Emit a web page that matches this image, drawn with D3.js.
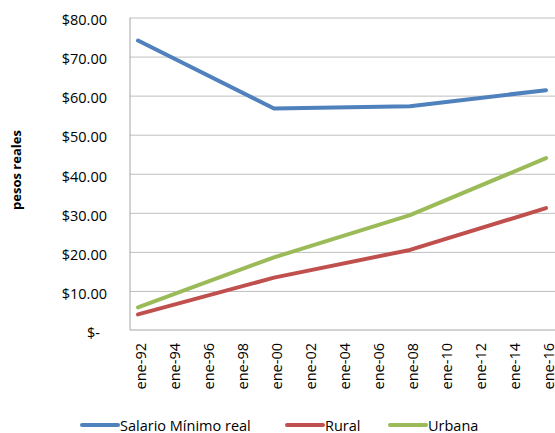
<!DOCTYPE html>
<html>
<head>
<meta charset="utf-8">
<script src="https://d3js.org/d3.v7.min.js"></script>
<style>
body { margin: 0; background: #fff; }
svg text { font-family: 'Open Sans', sans-serif; fill: #000; }
</style>
</head>
<body>
<svg id="chart" width="555" height="433"></svg>
<script>
// data (pesos reales)
var years = [1992, 2000, 2008, 2016];
var salarioMinimo = [74.1, 56.7, 57.3, 61.4];
var rural = [4.0, 13.4, 20.5, 31.2];
var urbana = [5.8, 18.6, 29.4, 44.0];
var seriesNames = ['Salario Mínimo real', 'Rural', 'Urbana'];
var seriesColors = ['#4f81bd', '#c0504d', '#9bbb59'];
var tickYears = [1992, 1994, 1996, 1998, 2000, 2002, 2004, 2006, 2008, 2010, 2012, 2014, 2016];
var tickLabels = ['ene-92', 'ene-94', 'ene-96', 'ene-98', 'ene-00', 'ene-02', 'ene-04', 'ene-06', 'ene-08', 'ene-10', 'ene-12', 'ene-14', 'ene-16'];
var yTicks = [0, 10, 20, 30, 40, 50, 60, 70, 80];

var svg = d3.select('#chart');
var plotLeft = 130, plotRight = 555, plotTop = 17.5, plotBottom = 330;

var xs = d3.scaleLinear().domain([1992, 2016]).range([138, 546]);
var ys = d3.scaleLinear().domain([0, 80]).range([plotBottom, plotTop]);

// gridlines
svg.append('g')
  .attr('transform', 'translate(' + plotLeft + ',0)')
  .call(d3.axisLeft(ys).tickValues(yTicks.slice(1)).tickSize(-(plotRight - plotLeft)).tickFormat(''))
  .call(function(g) { g.select('.domain').remove(); })
  .selectAll('line').attr('stroke', '#bfbfbf').attr('stroke-width', 1);

// y axis labels
var yAxis = svg.append('g')
  .attr('transform', 'translate(' + plotLeft + ',0)')
  .call(d3.axisLeft(ys).tickValues(yTicks).tickSize(0).tickPadding(23)
    .tickFormat(function(d) { return d === 0 ? '$-' : '$' + d.toFixed(2); }));
yAxis.select('.domain').remove();
yAxis.selectAll('text')
  .attr('font-size', '14.5px')
  .attr('font-family', "'Open Sans', sans-serif")
  .attr('dy', '0.5em')
  .attr('dx', function(d) { return d === 0 ? -7 : 0; });

// axis lines
svg.append('line')
  .attr('x1', plotLeft).attr('x2', plotLeft)
  .attr('y1', plotTop).attr('y2', plotBottom)
  .attr('stroke', '#a6a6a6');

// x axis
var xAxis = svg.append('g')
  .attr('transform', 'translate(0,' + plotBottom + ')')
  .call(d3.axisBottom(xs).tickValues(tickYears).tickSize(0)
    .tickFormat(function(d, i) { return tickLabels[i]; }));
xAxis.select('.domain')
  .attr('d', 'M' + plotLeft + ',0H' + plotRight)
  .attr('stroke', '#a6a6a6');
xAxis.selectAll('text')
  .attr('font-size', '14.5px')
  .attr('font-family', "'Open Sans', sans-serif")
  .attr('text-anchor', 'end')
  .attr('transform', 'translate(0,13) rotate(-90)')
  .attr('x', 0).attr('y', 0)
  .attr('dy', '7px');

// y title
svg.append('text')
  .attr('transform', 'translate(21,170) rotate(-90)')
  .attr('text-anchor', 'middle')
  .attr('font-weight', 'bold')
  .attr('font-size', '13px')
  .text('pesos reales');

// lines
var allSeries = [salarioMinimo, rural, urbana];
var line = d3.line()
  .x(function(d, i) { return xs(years[i]); })
  .y(function(d) { return ys(d); });

svg.append('g').selectAll('path')
  .data(allSeries)
  .enter()
  .append('path')
  .attr('d', function(d) { return line(d); })
  .attr('fill', 'none')
  .attr('stroke', function(d, i) { return seriesColors[i]; })
  .attr('stroke-width', 4)
  .attr('stroke-linecap', 'round')
  .attr('stroke-linejoin', 'round');

// legend
var legendX = [82, 287, 390];
var legend = svg.append('g').selectAll('g')
  .data(seriesNames)
  .enter()
  .append('g')
  .attr('transform', function(d, i) { return 'translate(' + legendX[i] + ',425)'; });
legend.append('line')
  .attr('x1', 0).attr('x2', 36)
  .attr('stroke', function(d, i) { return seriesColors[i]; })
  .attr('stroke-width', 4)
  .attr('stroke-linecap', 'round');
legend.append('text')
  .attr('x', 38)
  .attr('y', 5.5)
  .attr('font-size', '14.5px')
  .text(function(d) { return d; });
</script>
</body>
</html>
